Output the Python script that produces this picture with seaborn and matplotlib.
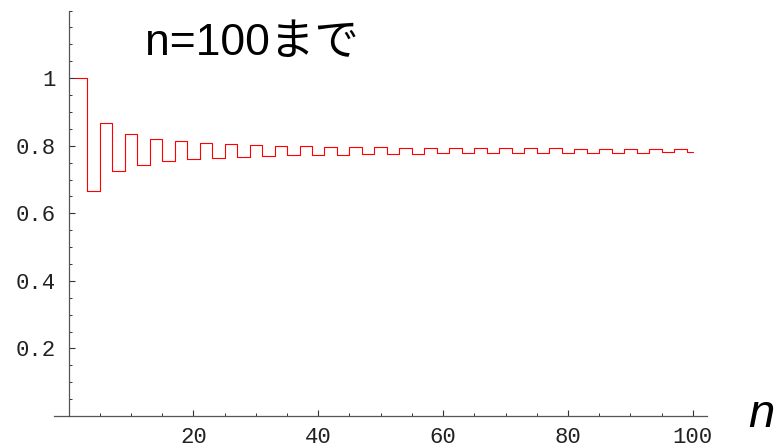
import pandas as pd
import seaborn as sns
import matplotlib.pyplot as plt
from matplotlib.ticker import MultipleLocator

# n where each new partial sum starts (odd denominators) and the value held until the next one
n_start = [1, 3, 5, 7, 9, 11, 13, 15, 17, 19, 21, 23, 25, 27, 29, 31, 33, 35, 37, 39,
           41, 43, 45, 47, 49, 51, 53, 55, 57, 59, 61, 63, 65, 67, 69, 71, 73, 75, 77, 79,
           81, 83, 85, 87, 89, 91, 93, 95, 97, 99]
partial_sums = [1.0, 0.6667, 0.8667, 0.7238, 0.8349, 0.7440, 0.8209, 0.7543, 0.8131, 0.7605,
                0.8081, 0.7646, 0.8046, 0.7676, 0.8021, 0.7698, 0.8001, 0.7715, 0.7985, 0.7729,
                0.7973, 0.7740, 0.7962, 0.7749, 0.7953, 0.7757, 0.7946, 0.7764, 0.7939, 0.7770,
                0.7934, 0.7775, 0.7929, 0.7780, 0.7925, 0.7784, 0.7921, 0.7788, 0.7918, 0.7791,
                0.7915, 0.7794, 0.7912, 0.7797, 0.7909, 0.7799, 0.7907, 0.7802, 0.7905, 0.7804]
n_end = 100

x_ticks = [20, 40, 60, 80, 100]
y_ticks = [0.2, 0.4, 0.6, 0.8, 1.0]
y_tick_labels = ['0.2', '0.4', '0.6', '0.8', '1']
title = 'n=100まで'
x_name = 'n'

df = pd.DataFrame({'n': n_start + [n_end], 'sum': partial_sums + [partial_sums[-1]]})

sns.set_style('ticks')
fig = plt.figure(figsize=(7.78, 4.48), dpi=100)
ax = fig.add_axes([0.0688, 0.0714, 0.8394, 0.905])

sns.lineplot(data=df, x='n', y='sum', ax=ax, color='#ff0000', linewidth=0.8,
             drawstyle='steps-post', estimator=None)

ax.set_xlim(-2.4, 102.2)
ax.set_ylim(0, 1.2)
ax.spines['left'].set_position(('data', 0))
for side in ['top', 'right']:
    ax.spines[side].set_visible(False)
for side in ['left', 'bottom']:
    ax.spines[side].set_color('#555555')
    ax.spines[side].set_linewidth(0.9)

ax.set_xticks(x_ticks)
ax.set_yticks(y_ticks)
ax.set_yticklabels(y_tick_labels)
ax.xaxis.set_minor_locator(MultipleLocator(5))
ax.yaxis.set_minor_locator(MultipleLocator(0.05))
ax.tick_params(which='both', bottom=True, left=True, top=False, right=False)
ax.tick_params(which='major', direction='in', length=4, width=0.8, color='#333333',
               labelsize=16, labelcolor='#222222')
ax.tick_params(which='minor', direction='in', length=2.2, width=0.7, color='#333333')
ax.tick_params(axis='x', which='major', pad=8)
ax.tick_params(axis='y', which='major', pad=9)
for lab in ax.get_xticklabels() + ax.get_yticklabels():
    lab.set_family('Liberation Mono')
ax.set_xlabel('')
ax.set_ylabel('')

fig.text(145 / 778, 1 - 55 / 448, title, fontsize=32, va='baseline', ha='left',
         family=['Liberation Sans', 'Noto Sans CJK JP'], color='black')
fig.text(748 / 778, 1 - 427 / 448, x_name, fontsize=34, style='italic', va='baseline',
         ha='left', family='Liberation Sans', color='black')

fig.savefig('out.png', dpi=100)
